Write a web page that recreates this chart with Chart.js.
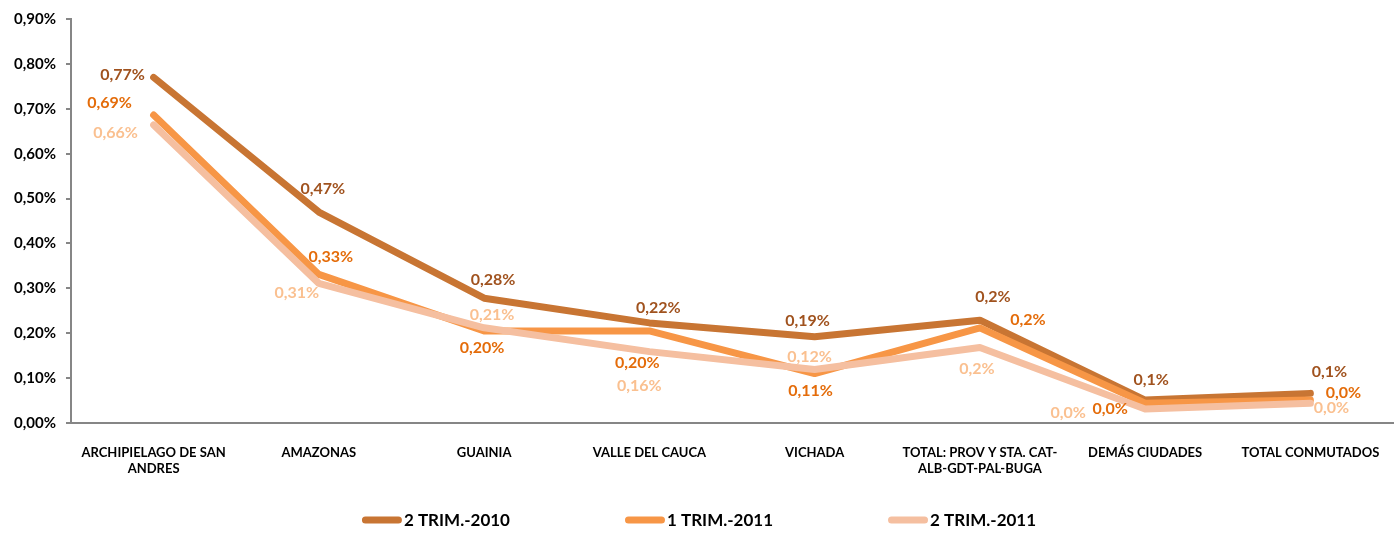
<!DOCTYPE html>
<html>
<head>
<meta charset="utf-8">
<script src="https://cdn.jsdelivr.net/npm/chart.js@4.4.1/dist/chart.umd.min.js"></script>
<style>
  html, body { margin: 0; padding: 0; background: #fff; }
  #wrap { width: 1398px; height: 533px; position: relative; }
</style>
</head>
<body>
<div id="wrap"><canvas id="chart"></canvas></div>
<script>
// Categories
const categories = [
    'ARCHIPIELAGO DE SAN|ANDRES',
    'AMAZONAS',
    'GUAINIA',
    'VALLE DEL CAUCA',
    'VICHADA',
    'TOTAL: PROV Y STA. CAT-|ALB-GDT-PAL-BUGA',
    'DEMÁS CIUDADES',
    'TOTAL CONMUTADOS'
];

// Series values (in %)
const trim2_2010 = [0.77, 0.47, 0.278, 0.223, 0.192, 0.229, 0.051, 0.066];
const trim1_2011 = [0.686, 0.331, 0.205, 0.205, 0.11, 0.212, 0.044, 0.051];
const trim2_2011 = [0.664, 0.311, 0.212, 0.159, 0.119, 0.168, 0.031, 0.044];

// Data labels as printed on the chart
const text2_2010 = ['0,77%', '0,47%', '0,28%', '0,22%', '0,19%', '0,2%', '0,1%', '0,1%'];
const text1_2011 = ['0,69%', '0,33%', '0,20%', '0,20%', '0,11%', '0,2%', '0,0%', '0,0%'];
const text2_2011 = ['0,66%', '0,31%', '0,21%', '0,16%', '0,12%', '0,2%', '0,0%', '0,0%'];

// Y ticks
const yTicks = [0, 0.1, 0.2, 0.3, 0.4, 0.5, 0.6, 0.7, 0.8, 0.9];

const FONT = 'Lato, "Open Sans", sans-serif';

// label placement relative to the point (dx, dy)
const labelOffsets = [
    [[-31, -3], [4, -23], [9, -18], [9, -15], [-7, -16], [13, -23], [6, -20], [19, -22]],
    [[-44, -12], [12, -18], [-2, 17], [-12, 32], [-4, 17], [48, -8], [-35, 6], [33, -7]],
    [[-38, 8], [-22, 9], [8, -13], [-10, 34], [-5, -13], [-3, 21], [-77, 4], [21, 5]]
];

const dataLabelPlugin = {
    id: 'dataLabels',
    afterDatasetsDraw(chart) {
        const ctx = chart.ctx;
        ctx.save();
        ctx.font = 'bold 16px ' + FONT;
        ctx.textAlign = 'center';
        ctx.textBaseline = 'middle';
        chart.data.datasets.forEach((ds, i) => {
            const meta = chart.getDatasetMeta(i);
            meta.data.forEach((pt, j) => {
                const off = labelOffsets[i][j];
                ctx.fillStyle = ds.labelColor;
                ctx.fillText(ds.valueText[j], pt.x + off[0], pt.y + off[1]);
            });
        });
        ctx.restore();
    }
};

// Simple bottom legend with wide gaps (the built-in one uses padding vertically too)
const bottomLegend = {
    id: 'bottomLegend',
    afterDraw(chart) {
        const ctx = chart.ctx;
        const sample = 40, gap = 115, y = 520;
        ctx.save();
        ctx.font = 'bold 17px ' + FONT;
        ctx.textBaseline = 'middle';
        const items = chart.data.datasets.map(ds => ({
            ds, w: sample + 2 + ctx.measureText(ds.label).width
        }));
        const total = items.reduce((s, it) => s + it.w, 0) + gap * (items.length - 1);
        let x = chart.width / 2 - total / 2;
        items.forEach(it => {
            ctx.strokeStyle = it.ds.borderColor;
            ctx.lineWidth = 7;
            ctx.lineCap = 'round';
            ctx.beginPath();
            ctx.moveTo(x + 3.5, y);
            ctx.lineTo(x + sample - 3.5, y);
            ctx.stroke();
            ctx.fillStyle = '#000';
            ctx.fillText(it.ds.label, x + sample + 2, y + 1);
            x += it.w + gap;
        });
        ctx.restore();
    }
};

new Chart(document.getElementById('chart'), {
    type: 'line',
    data: {
        labels: categories.map(c => c.split('|')),
        datasets: [{
            label: '2 TRIM.-2010',
            data: trim2_2010,
            valueText: text2_2010,
            borderColor: '#C87533',
            backgroundColor: '#C87533',
            labelColor: '#A0521E',
            order: 3
        }, {
            label: '1 TRIM.-2011',
            data: trim1_2011,
            valueText: text1_2011,
            borderColor: '#F79646',
            backgroundColor: '#F79646',
            labelColor: '#E46C0A',
            order: 2
        }, {
            label: '2 TRIM.-2011',
            data: trim2_2011,
            valueText: text2_2011,
            borderColor: '#F5BFA0',
            backgroundColor: '#F5BFA0',
            labelColor: '#FAC090',
            order: 1
        }]
    },
    options: {
        responsive: true,
        maintainAspectRatio: false,
        animation: false,
        layout: { padding: { top: 15, right: 5, left: 0, bottom: 32 } },
        elements: {
            line: { borderWidth: 7, tension: 0, borderCapStyle: 'round', borderJoinStyle: 'round' },
            point: { radius: 0, hoverRadius: 0 }
        },
        plugins: {
            tooltip: { enabled: false },
            legend: { display: false }
        },
        scales: {
            x: {
                offset: true,
                grid: { display: false },
                border: { color: '#868686', width: 2 },
                ticks: {
                    color: '#000',
                    padding: 14,
                    maxRotation: 0,
                    autoSkip: false,
                    font: { family: FONT, size: 13, weight: 'bold' }
                },
                afterFit: s => { s.height = 78; }
            },
            y: {
                min: 0,
                max: 0.9,
                afterBuildTicks: s => { s.ticks = yTicks.map(v => ({ value: v })); },
                grid: { display: true, drawOnChartArea: false, tickLength: 5, color: '#868686', lineWidth: 2 },
                border: { color: '#868686', width: 2 },
                ticks: {
                    color: '#000',
                    padding: 10,
                    font: { family: FONT, size: 15, weight: 'bold' },
                    callback: v => v.toFixed(2).replace('.', ',') + '%'
                },
                afterFit: s => { s.width = 71; }
            }
        }
    },
    plugins: [dataLabelPlugin, bottomLegend]
});
</script>
</body>
</html>
